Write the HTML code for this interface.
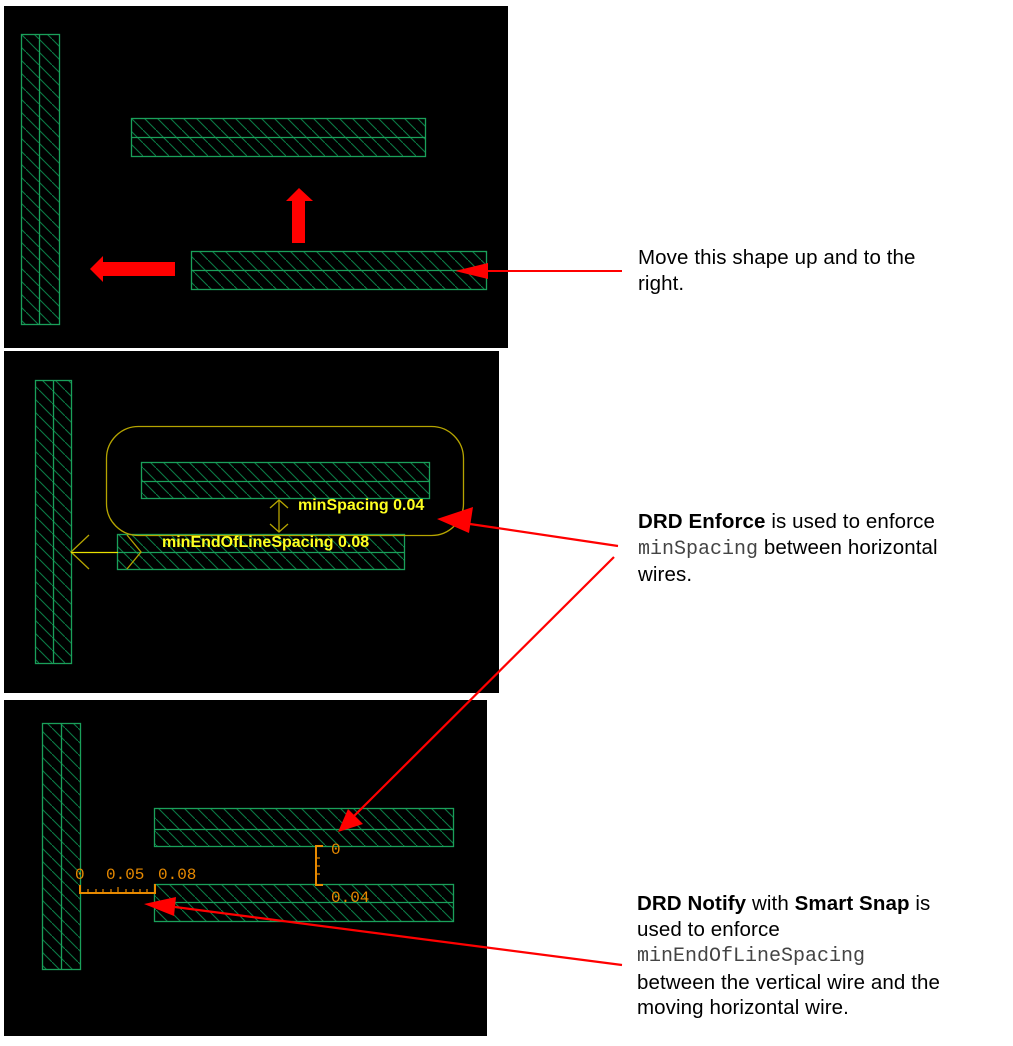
<!DOCTYPE html>
<html><head><meta charset="utf-8"><style>
html,body{margin:0;padding:0;background:#fff;}
body{width:1013px;height:1046px;position:relative;overflow:hidden;font-family:"Liberation Sans",sans-serif;}
.t{position:absolute;left:638px;font-size:20.5px;line-height:25.5px;color:#000;white-space:nowrap;letter-spacing:0.1px;}
.m{font-family:"Liberation Mono",monospace;color:#444;font-size:20px;letter-spacing:0;}
</style></head><body>
<svg width="1013" height="1046" style="position:absolute;left:0;top:0">
<defs>
<pattern id="h" patternUnits="userSpaceOnUse" width="13" height="13">
<path d="M-3,-3 L16,16" stroke="#0b7a45" stroke-width="1.1"/>
</pattern>
</defs>
<rect x="4" y="6" width="504" height="342" fill="#000"/>
<rect x="4" y="351" width="495" height="342" fill="#000"/>
<rect x="4" y="700" width="483" height="336" fill="#000"/>
<g stroke="#1aa05a" stroke-width="1.3" fill="url(#h)">
<rect x="21.5" y="34.5" width="38" height="290"/><line x1="39.5" y1="34" x2="39.5" y2="324"/>
<rect x="131.5" y="118.5" width="294" height="38"/><line x1="131" y1="137.5" x2="425" y2="137.5"/>
<rect x="191.5" y="251.5" width="295" height="38"/><line x1="191" y1="270.5" x2="486" y2="270.5"/>
<rect x="35.5" y="380.5" width="36" height="283"/><line x1="53.5" y1="380" x2="53.5" y2="663"/>
<rect x="141.5" y="462.5" width="288" height="36"/><line x1="141" y1="481.5" x2="429" y2="481.5"/>
<rect x="117.5" y="534.5" width="287" height="35"/><line x1="117" y1="552.5" x2="404" y2="552.5"/>
<rect x="42.5" y="723.5" width="38" height="246"/><line x1="61.5" y1="723" x2="61.5" y2="969"/>
<rect x="154.5" y="808.5" width="299" height="38"/><line x1="154" y1="829.5" x2="453" y2="829.5"/>
<rect x="154.5" y="884.5" width="299" height="37"/><line x1="154" y1="902.5" x2="453" y2="902.5"/>
</g>
<g fill="#f00">
<rect x="292" y="201" width="13" height="42"/><polygon points="299,188 313,201 286,201"/>
<rect x="101" y="262" width="74" height="14"/><polygon points="90,269 103,256 103,282"/>
<polygon points="455,271 488,263 488,279"/>
</g>
<line x1="486" y1="271" x2="622" y2="271" stroke="#f00" stroke-width="2"/>
<rect x="106.5" y="426.5" width="357" height="109" rx="32" ry="32" fill="none" stroke="#b5a400" stroke-width="1.3"/>
<g stroke="#b5a400" stroke-width="1.3" fill="none">
<line x1="279" y1="500" x2="279" y2="532"/><polyline points="270,508 279,500 288,508"/><polyline points="270,524 279,532 288,524"/>
<polyline points="89,535 71,552 89,569"/>
<polyline points="127,535 141,552 127,569"/>
</g>
<line x1="71" y1="552.5" x2="118" y2="552.5" stroke="#e8e000" stroke-width="1.3"/>
<g fill="#ffff20" font-family="Liberation Sans,sans-serif" font-weight="bold" font-size="16">
<text x="298" y="510">minSpacing 0.04</text>
<text x="162" y="547">minEndOfLineSpacing 0.08</text>
</g>
<g stroke="#e88a00" stroke-width="2" fill="none">
<polyline points="80,885 80,893 155,893 155,884"/>
<polyline points="323,846 316,846 316,885 323,885"/>
</g>
<g stroke="#e88a00" stroke-width="1.2">
<line x1="88" y1="893" x2="88" y2="889"/><line x1="96" y1="893" x2="96" y2="889"/><line x1="103" y1="893" x2="103" y2="889"/><line x1="111" y1="893" x2="111" y2="889"/><line x1="118" y1="893" x2="118" y2="887"/><line x1="126" y1="893" x2="126" y2="889"/><line x1="133" y1="893" x2="133" y2="889"/><line x1="140" y1="893" x2="140" y2="889"/><line x1="147" y1="893" x2="147" y2="889"/>
<line x1="316" y1="858" x2="320" y2="858"/><line x1="316" y1="866" x2="320" y2="866"/><line x1="316" y1="874" x2="320" y2="874"/>
</g>
<g fill="#e88a00" font-family="Liberation Mono,monospace" font-size="16">
<text x="75" y="879">0</text><text x="106" y="879">0.05</text><text x="158" y="879">0.08</text>
<text x="331" y="854">0</text><text x="331" y="902">0.04</text>
</g>
<g stroke="#f00" stroke-width="2.2">
<line x1="618" y1="546" x2="470" y2="524"/>
<line x1="614" y1="557" x2="350" y2="820"/>
<line x1="622" y1="965" x2="175" y2="907"/>
</g>
<g fill="#f00">
<polygon points="437,519 473,507 469,533"/>
<polygon points="338,832 348,809 363,824"/>
<polygon points="144,904 176,897 174,916"/>
</g>
</svg>
<div class="t" style="top:245px">Move this shape up and to the<br>right.</div>
<div class="t" style="top:509px"><b>DRD Enforce</b> is used to enforce<br><span class="m">minSpacing</span> between horizontal<br>wires.</div>
<div class="t" style="top:891px;left:637px"><b>DRD Notify</b> with <b>Smart Snap</b> is<br>used to enforce<br><span class="m">minEndOfLineSpacing</span><br>between the vertical wire and the<br>moving horizontal wire.</div>
</body></html>
